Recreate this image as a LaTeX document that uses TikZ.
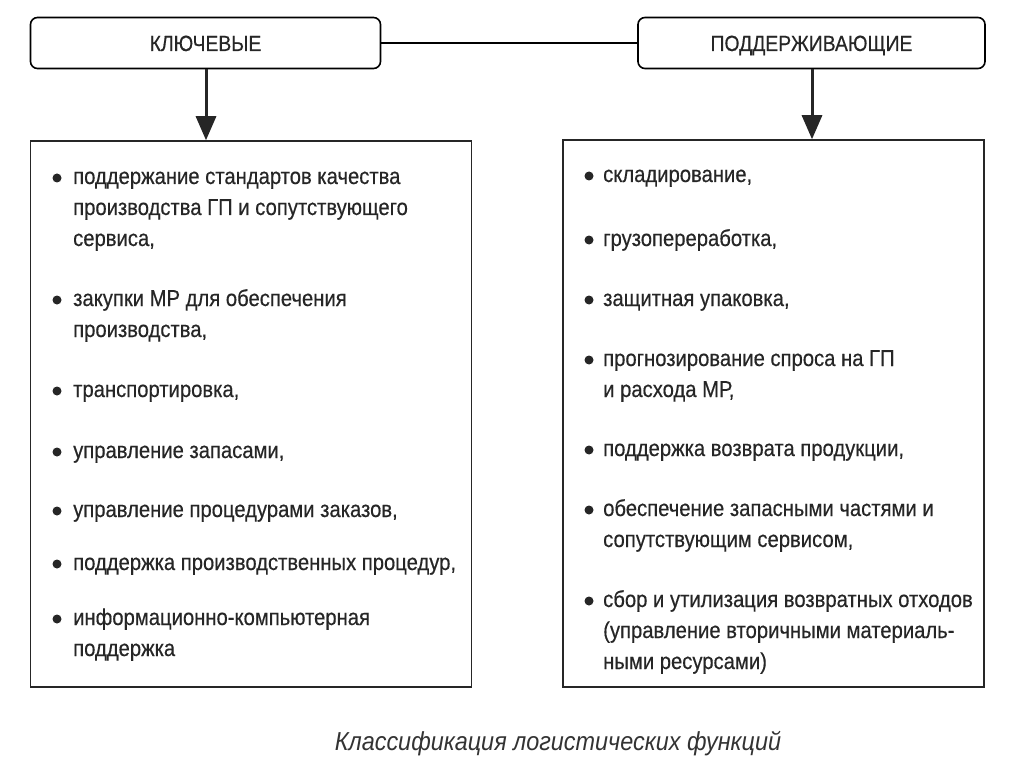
\documentclass[tikz,border=0pt]{standalone}
\usepackage{fontspec}
\setmainfont{Liberation Sans}[FakeStretch=0.88, FakeBold=0.4]
\newfontfamily\capfont{Liberation Sans}[FakeStretch=0.9]
\usetikzlibrary{arrows.meta}
\newcommand{\lines}[1]{\begin{tabular}[t]{@{}l@{}}#1\end{tabular}}
\tikzset{
  head/.style={draw, line width=1.6pt, rounded corners=7pt, minimum width=350pt, minimum height=51pt, inner sep=0, text height=16pt, text depth=0pt, font=\fontsize{22}{26}\selectfont, text=black!85},
  panel/.style={draw, line width=1.5pt, draw=black!85},
  item/.style={anchor=base west, inner sep=0, font=\fontsize{23}{31}\selectfont, text=black!85},
  dot/.style={fill=black!85, circle, inner sep=0, minimum size=9pt},
  bigarrow/.style={line width=3pt, draw=black!85, -{Triangle[width=20pt,length=24pt]}},
}
\begin{document}
\begin{tikzpicture}[x=1pt,y=-1pt]
\useasboundingbox (0,0) rectangle (1024,767);
\fill[white] (0,0) rectangle (1024,767);
\node[head] (k) at (205.5,43) {КЛЮЧЕВЫЕ};
\node[head, minimum width=347pt] (p) at (811.5,43) {ПОДДЕРЖИВАЮЩИЕ};
\draw[line width=1.1pt] (k.east) -- (p.west);
\node[panel, minimum width=441pt, minimum height=546pt, inner sep=0] (L) at (251,414) {};
\node[panel, minimum width=421pt, minimum height=547pt, inner sep=0] (R) at (773.5,413.5) {};
\draw[bigarrow] (k.south -| 206,0) -- (L.north -| 206,0);
\draw[bigarrow] (p.south -| 812,0) -- (R.north -| 812,0);
% left items
\foreach \y/\t [count=\i] in {
 184/{поддержание стандартов качества\\производства ГП и сопутствующего\\сервиса,},
 306/{закупки МР для обеспечения\\производства,},
 397/{транспортировка,},
 458/{управление запасами,},
 517/{управление процедурами заказов,},
 570/{поддержка производственных процедур,},
 625/{информационно-компьютерная\\поддержка}}{
 \node[item] (l\i) at (73,\y) {\lines{\t}};
 \node[dot] (ld\i) at (57,\y-6) {};
}
% right items
\foreach \y/\t [count=\i] in {
 182/{складирование,},
 246/{грузопереработка,},
 306/{защитная упаковка,},
 366/{прогнозирование спроса на ГП\\и расхода МР,},
 456/{поддержка возврата продукции,},
 516/{обеспечение запасными частями и\\сопутствующим сервисом,},
 607/{сбор и утилизация возвратных отходов\\(управление вторичными материаль-\\ными ресурсами)}}{
 \node[item] (r\i) at (603,\y) {\lines{\t}};
 \node[dot] (rd\i) at (589,\y-6) {};
}
\node[anchor=base, inner sep=0, font=\capfont\itshape\fontsize{26}{30}\selectfont, text=black!80] (cap) at (558,750) {Классификация логистических функций};
\end{tikzpicture}
\end{document}
